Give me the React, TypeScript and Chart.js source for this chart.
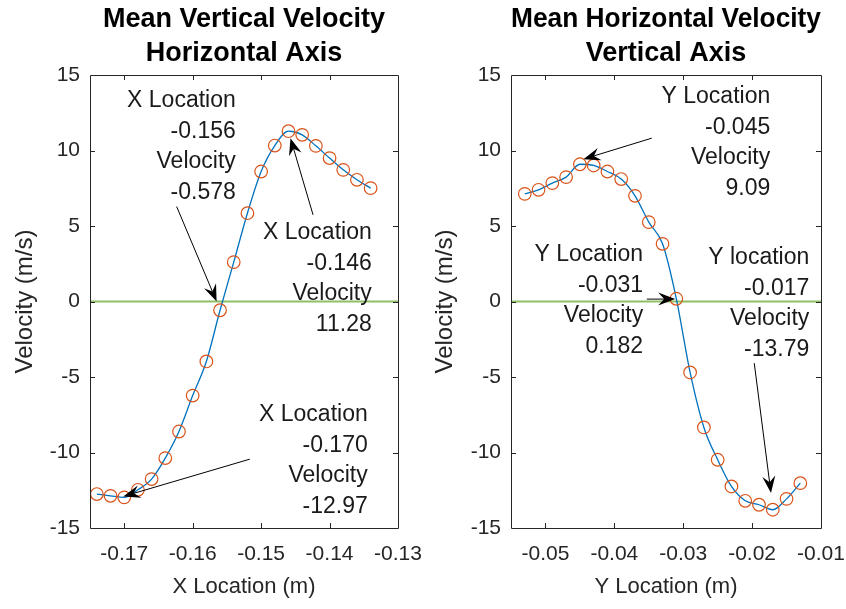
import React, { useEffect, useRef } from 'react';
import { Chart, registerables } from 'chart.js';

Chart.register(...registerables);

const FONT = '"Liberation Sans", Arial, Helvetica, sans-serif';

// ---- data ----
const xLocation = [-0.174, -0.172, -0.170, -0.168, -0.166, -0.164, -0.162, -0.160, -0.158, -0.156, -0.154, -0.152, -0.150, -0.148, -0.146, -0.144, -0.142, -0.140, -0.138, -0.136, -0.134];
const verticalVelocity = [-12.75, -12.87, -12.97, -12.47, -11.76, -10.37, -8.61, -6.23, -3.97, -0.578, 2.61, 5.85, 8.61, 10.33, 11.28, 11.04, 10.31, 9.50, 8.72, 8.06, 7.51];

const yLocation = [-0.053, -0.051, -0.049, -0.047, -0.045, -0.043, -0.041, -0.039, -0.037, -0.035, -0.033, -0.031, -0.029, -0.027, -0.025, -0.023, -0.021, -0.019, -0.017, -0.015, -0.013];
const horizontalVelocity = [7.13, 7.40, 7.84, 8.24, 9.09, 9.01, 8.61, 8.11, 7.00, 5.26, 3.82, 0.182, -4.70, -8.34, -10.48, -12.25, -13.20, -13.46, -13.79, -13.07, -12.03];

const leftXTicks = [-0.17, -0.16, -0.15, -0.14, -0.13];
const rightXTicks = [-0.05, -0.04, -0.03, -0.02, -0.01];
const velocityTicks = [-15, -10, -5, 0, 5, 10, 15];

const leftTitle = ['Mean Vertical Velocity', 'Horizontal Axis'];
const rightTitle = ['Mean Horizontal Velocity', 'Vertical Axis'];

// annotation texts (text arrows)
const leftNoteTexts = [
  ['X Location', '-0.156', 'Velocity', '-0.578'],
  ['X Location', '-0.146', 'Velocity', '11.28'],
  ['X Location', '-0.170', 'Velocity', '-12.97'],
];
const rightNoteTexts = [
  ['Y Location', '-0.045', 'Velocity', '9.09'],
  ['Y Location', '-0.031', 'Velocity', '0.182'],
  ['Y location', '-0.017', 'Velocity', '-13.79'],
];

// annotation placement (data coordinates): text anchor (right edge, first line), arrow tail, arrow head
const leftNoteLayout = [
  { text: [-0.1537, 13.29], tail: [-0.16234, 6.29], head: [-0.1565, 0.0] },
  { text: [-0.13384, 4.55], tail: [-0.14241, 5.74], head: [-0.14571, 10.82] },
  { text: [-0.13442, -7.5], tail: [-0.15165, -10.44], head: [-0.17014, -12.91] },
];
const rightNoteLayout = [
  { text: [-0.01737, 13.56], tail: [-0.03456, 10.82], head: [-0.04449, 9.43] },
  { text: [-0.03582, 3.09], tail: [-0.03528, 0.16], head: [-0.03117, 0.16] },
  { text: [-0.0117, 2.89], tail: [-0.01969, -4.08], head: [-0.01726, -12.69] },
];

const AXIS_COLOR = '#262626';

function drawArrow(ctx: CanvasRenderingContext2D, x0: number, y0: number, x1: number, y1: number) {
  const ang = Math.atan2(y1 - y0, x1 - x0);
  const L = 17, W = 6.5, N = 11;
  const c = Math.cos(ang), s = Math.sin(ang);
  ctx.beginPath();
  ctx.moveTo(x0, y0);
  ctx.lineTo(x1 - c * N, y1 - s * N);
  ctx.stroke();
  const bx = x1 - c * L, by = y1 - s * L;
  const px = -s, py = c;
  ctx.beginPath();
  ctx.moveTo(x1, y1);
  ctx.lineTo(bx + px * W, by + py * W);
  ctx.lineTo(x1 - c * N, y1 - s * N);
  ctx.lineTo(bx - px * W, by - py * W);
  ctx.closePath();
  ctx.fill();
}

const framePlugin = {
  id: 'matlabFrame',
  afterDatasetsDraw(chart: any) {
    const { ctx, chartArea: a, scales } = chart;
    const xs = scales.x, ys = scales.y;
    const tl = 5;
    ctx.save();
    ctx.strokeStyle = AXIS_COLOR;
    ctx.lineWidth = 1;
    ctx.beginPath();
    ctx.rect(Math.round(a.left) + 0.5, Math.round(a.top) + 0.5, Math.round(a.right - a.left), Math.round(a.bottom - a.top));
    ctx.stroke();
    ctx.beginPath();
    xs.ticks.forEach((t: any) => {
      const p = Math.round(xs.getPixelForValue(t.value)) + 0.5;
      if (p <= a.left + 1 || p >= a.right - 1) return;
      ctx.moveTo(p, a.bottom); ctx.lineTo(p, a.bottom - tl);
      ctx.moveTo(p, a.top); ctx.lineTo(p, a.top + tl);
    });
    ys.ticks.forEach((t: any) => {
      const p = Math.round(ys.getPixelForValue(t.value)) + 0.5;
      if (p <= a.top + 1 || p >= a.bottom - 1) return;
      ctx.moveTo(a.left, p); ctx.lineTo(a.left + tl, p);
      ctx.moveTo(a.right, p); ctx.lineTo(a.right - tl, p);
    });
    ctx.stroke();
    ctx.restore();
  },
  afterDraw(chart: any) {
    const opts = chart.options.plugins.notes;
    if (!opts) return;
    const { ctx, scales } = chart;
    const xs = scales.x, ys = scales.y;
    ctx.save();
    ctx.strokeStyle = '#000';
    ctx.lineWidth = 1;
    ctx.font = `23px ${FONT}`;
    ctx.textAlign = 'right';
    ctx.textBaseline = 'middle';
    opts.texts.forEach((lines: string[], i: number) => {
      const lay = opts.layout[i];
      const tx = xs.getPixelForValue(lay.text[0]);
      const ty = ys.getPixelForValue(lay.text[1]);
      ctx.fillStyle = '#1a1a1a';
      lines.forEach((ln, j) => ctx.fillText(ln, tx, ty + j * 30.5));
      ctx.fillStyle = '#000';
      drawArrow(ctx,
        xs.getPixelForValue(lay.tail[0]), ys.getPixelForValue(lay.tail[1]),
        xs.getPixelForValue(lay.head[0]), ys.getPixelForValue(lay.head[1]));
    });
    ctx.restore();
  },
};

type Props = {
  xs: number[];
  vs: number[];
  xMin: number;
  xMax: number;
  xTicks: number[];
  title: string[];
  xTitle: string;
  yAxisWidth: number;
  yTitlePad: number;
  noteTexts: string[][];
  noteLayout: any[];
};

function VelocityChart(p: Props) {
  const ref = useRef<HTMLCanvasElement>(null);
  useEffect(() => {
    const pts = p.xs.map((x, i) => ({ x, y: p.vs[i] }));
    const tickFont = { family: FONT, size: 21 };
    const chart = new Chart(ref.current as HTMLCanvasElement, {
      type: 'scatter',
      data: {
        datasets: [
          {
            data: pts,
            showLine: false,
            pointRadius: 6.3,
            pointBorderWidth: 1.2,
            pointBorderColor: '#D95319',
            pointBackgroundColor: 'rgba(0,0,0,0)',
            order: 1,
          } as any,
          {
            data: pts,
            showLine: true,
            borderColor: '#0072BD',
            borderWidth: 1.3,
            pointRadius: 0,
            cubicInterpolationMode: 'monotone',
            order: 2,
          } as any,
          {
            data: [{ x: p.xMin, y: 0 }, { x: p.xMax, y: 0 }],
            showLine: true,
            borderColor: '#8cc063',
            borderWidth: 2,
            pointRadius: 0,
            order: 3,
          } as any,
        ],
      },
      options: {
        responsive: false,
        animation: false,
        devicePixelRatio: 1,
        layout: { padding: { left: 0, right: 25, top: 0, bottom: 0 } },
        plugins: {
          legend: { display: false },
          tooltip: { enabled: false },
          title: {
            display: true,
            text: p.title,
            fullSize: false,
            color: '#000',
            font: { family: FONT, size: 27, weight: 'bold', lineHeight: 1.26 },
            padding: { top: 3, bottom: 4 },
          },
          notes: { texts: p.noteTexts, layout: p.noteLayout },
        } as any,
        scales: {
          x: {
            type: 'linear',
            min: p.xMin,
            max: p.xMax,
            afterBuildTicks: (s: any) => { s.ticks = p.xTicks.map((v) => ({ value: v })); },
            afterFit: (s: any) => { s.height = 81; s.paddingLeft = 0; s.paddingRight = 0; },
            grid: { display: false, drawTicks: false },
            border: { display: false },
            ticks: {
              color: AXIS_COLOR,
              font: tickFont,
              padding: 13.4,
              maxRotation: 0,
              autoSkip: false,
              callback: (v: any) => String(v),
            },
            title: {
              display: true,
              text: p.xTitle,
              color: AXIS_COLOR,
              font: { family: FONT, size: 22 },
              padding: { top: 0, bottom: 9 },
            },
          },
          y: {
            type: 'linear',
            min: -15,
            max: 15,
            afterBuildTicks: (s: any) => { s.ticks = velocityTicks.map((v) => ({ value: v })); },
            afterFit: (s: any) => { s.width = p.yAxisWidth; s.paddingTop = 0; s.paddingBottom = 0; },
            grid: { display: false, drawTicks: false },
            border: { display: false },
            ticks: {
              color: AXIS_COLOR,
              font: tickFont,
              padding: 10,
              callback: (v: any) => String(v),
            },
            title: {
              display: true,
              text: 'Velocity (m/s)',
              color: AXIS_COLOR,
              font: { family: FONT, size: 24 },
              padding: { top: p.yTitlePad, bottom: 0 },
            },
          },
        },
      } as any,
      plugins: [framePlugin as any],
    });
    return () => chart.destroy();
  }, []);
  return <canvas ref={ref} width={423} height={609} style={{ display: 'block' }} />;
}

export default function App() {
  return (
    <div style={{ position: 'absolute', left: 0, top: 0, width: 846, height: 609, background: '#fff' }}>
      <div style={{ position: 'absolute', left: 0, top: 0 }}>
        <VelocityChart
          xs={xLocation}
          vs={verticalVelocity}
          xMin={-0.175}
          xMax={-0.13}
          xTicks={leftXTicks}
          title={leftTitle}
          xTitle="X Location (m)"
          yAxisWidth={90}
          yTitlePad={10.6}
          noteTexts={leftNoteTexts}
          noteLayout={leftNoteLayout}
        />
      </div>
      <div style={{ position: 'absolute', left: 423, top: 0 }}>
        <VelocityChart
          xs={yLocation}
          vs={horizontalVelocity}
          xMin={-0.055}
          xMax={-0.01}
          xTicks={rightXTicks}
          title={rightTitle}
          xTitle="Y Location (m)"
          yAxisWidth={88}
          yTitlePad={7.6}
          noteTexts={rightNoteTexts}
          noteLayout={rightNoteLayout}
        />
      </div>
    </div>
  );
}
